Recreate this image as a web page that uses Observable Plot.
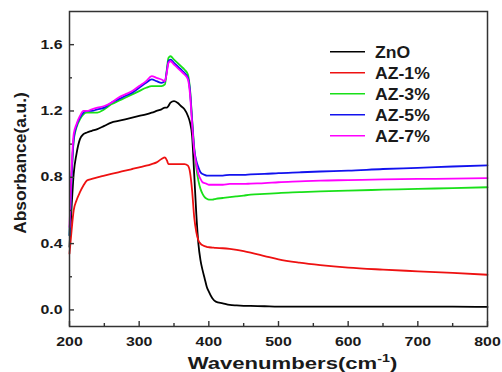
<!DOCTYPE html>
<html>
<head>
<meta charset="utf-8">
<script src="https://cdn.jsdelivr.net/npm/d3@7"></script>
<script src="https://cdn.jsdelivr.net/npm/@observablehq/plot@0.6"></script>
<style>
  html, body { margin: 0; padding: 0; background: #fff; }
  #chart { width: 502px; height: 372px; }
</style>
</head>
<body>
<div id="chart"></div>
<script>
// ---- data ----
const wavelengths = [200, 203, 206, 210, 215, 220, 225, 232, 240, 250, 260, 270, 280, 290, 300, 310, 318, 325, 332, 337, 340, 342, 345, 350, 355, 360, 365, 370, 373, 376, 379, 382, 385, 388, 391, 394, 397, 400, 405, 410, 420, 430, 440, 450, 460, 480, 500, 530, 560, 600, 650, 700, 750, 800];
const seriesNames = ["ZnO", "AZ-1%", "AZ-3%", "AZ-5%", "AZ-7%"];
const valuesZnO = [0.38, 0.62, 0.82, 0.94, 1.03, 1.06, 1.07, 1.08, 1.09, 1.11, 1.13, 1.14, 1.15, 1.16, 1.17, 1.18, 1.19, 1.20, 1.21, 1.22, 1.22, 1.23, 1.25, 1.26, 1.25, 1.23, 1.21, 1.17, 1.13, 1.05, 0.82, 0.58, 0.40, 0.30, 0.24, 0.19, 0.14, 0.11, 0.07, 0.05, 0.04, 0.03, 0.027, 0.025, 0.024, 0.022, 0.02, 0.02, 0.02, 0.02, 0.02, 0.02, 0.02, 0.018];
const valuesAZ1 = [0.34, 0.48, 0.60, 0.66, 0.71, 0.75, 0.78, 0.79, 0.80, 0.81, 0.82, 0.83, 0.84, 0.85, 0.86, 0.87, 0.88, 0.89, 0.91, 0.92, 0.90, 0.88, 0.88, 0.88, 0.88, 0.88, 0.88, 0.87, 0.83, 0.72, 0.56, 0.47, 0.42, 0.40, 0.39, 0.385, 0.38, 0.378, 0.376, 0.374, 0.372, 0.368, 0.362, 0.354, 0.345, 0.325, 0.305, 0.285, 0.27, 0.255, 0.243, 0.233, 0.223, 0.212];
const valuesAZ3 = [0.45, 0.80, 1.02, 1.10, 1.15, 1.18, 1.19, 1.19, 1.19, 1.21, 1.24, 1.26, 1.28, 1.30, 1.32, 1.34, 1.35, 1.35, 1.35, 1.36, 1.46, 1.52, 1.53, 1.51, 1.49, 1.47, 1.45, 1.42, 1.33, 1.15, 0.98, 0.86, 0.78, 0.73, 0.70, 0.68, 0.67, 0.665, 0.665, 0.67, 0.675, 0.68, 0.685, 0.69, 0.695, 0.70, 0.705, 0.71, 0.715, 0.72, 0.725, 0.73, 0.735, 0.74];
const valuesAZ5 = [0.45, 0.80, 1.03, 1.11, 1.16, 1.19, 1.20, 1.20, 1.21, 1.22, 1.25, 1.27, 1.29, 1.31, 1.34, 1.37, 1.39, 1.38, 1.37, 1.38, 1.45, 1.50, 1.51, 1.49, 1.47, 1.45, 1.43, 1.40, 1.32, 1.14, 0.97, 0.90, 0.86, 0.83, 0.82, 0.815, 0.81, 0.81, 0.81, 0.81, 0.81, 0.815, 0.815, 0.815, 0.818, 0.82, 0.825, 0.83, 0.835, 0.84, 0.85, 0.857, 0.865, 0.872];
const valuesAZ7 = [0.50, 0.85, 1.06, 1.12, 1.17, 1.20, 1.20, 1.21, 1.22, 1.23, 1.25, 1.28, 1.30, 1.32, 1.35, 1.38, 1.41, 1.40, 1.39, 1.38, 1.44, 1.49, 1.50, 1.48, 1.46, 1.44, 1.42, 1.39, 1.30, 1.12, 0.96, 0.88, 0.82, 0.79, 0.77, 0.765, 0.76, 0.755, 0.755, 0.755, 0.755, 0.76, 0.76, 0.76, 0.762, 0.765, 0.77, 0.775, 0.78, 0.783, 0.787, 0.79, 0.792, 0.795];
const xTicks = [200, 300, 400, 500, 600, 700, 800];
const xMinorTicks = [250, 350, 450, 550, 650, 750];
const yTicks = [0.0, 0.4, 0.8, 1.2, 1.6];
const yMinorTicks = [0.2, 0.6, 1.0, 1.4];
const xLabel = "Wavenumbers(cm-1)";
const yLabel = "Absorbance(a.u.)";

// ---- table built from the arrays ----
const allValues = [valuesZnO, valuesAZ1, valuesAZ3, valuesAZ5, valuesAZ7];
const rows = [];
seriesNames.forEach((name, si) => {
  wavelengths.forEach((w, i) => rows.push({series: name, w, v: allValues[si][i]}));
});

const colors = ["#000000", "#ee1111", "#19e019", "#1212ee", "#ff00ff"];
const W = 502, H = 372, mL = 69, mR = 15, mT = 11, mB = 46;
const frameW = W - mL - mR, frameH = H - mT - mB;
const ink = "#1a1a1a";
const font = "'Liberation Sans', Arial, sans-serif";

const chart = Plot.plot({
  width: W, height: H,
  marginLeft: mL, marginRight: mR, marginTop: mT, marginBottom: mB,
  style: {fontFamily: font, fontWeight: "bold", color: ink, background: "#fff"},
  x: {domain: [200, 800]},
  y: {domain: [-0.1, 1.8]},
  color: {domain: seriesNames, range: colors},
  marks: [
    Plot.line(rows, {x: "w", y: "v", z: "series", stroke: "series", strokeWidth: 1.8, curve: "monotone-x"}),
    Plot.frame({stroke: "#333", strokeWidth: 1.5}),
    Plot.tickX(xTicks, {x: d => d, insetTop: frameH - 5, stroke: "#333", strokeWidth: 1.4}),
    Plot.tickX(xMinorTicks, {x: d => d, insetTop: frameH - 3, stroke: "#333", strokeWidth: 1.4}),
    Plot.tickY(yTicks, {y: d => d, insetRight: frameW - 5, stroke: "#333", strokeWidth: 1.4}),
    Plot.tickY(yMinorTicks, {y: d => d, insetRight: frameW - 3, stroke: "#333", strokeWidth: 1.4}),
    Plot.axisX({ticks: xTicks, tickSize: 0, tickPadding: 10, fontSize: 13, fontWeight: "bold", label: null, tickFormat: d => String(d)}),
    Plot.axisY({ticks: yTicks, tickSize: 0, tickPadding: 7, fontSize: 13, fontWeight: "bold", label: null, tickFormat: d3.format(".1f")}),
    Plot.text([xLabel], {frameAnchor: "bottom", textAnchor: "middle", lineAnchor: "top", dy: 30, dx: 14, fontSize: 17, fontWeight: "bold", fill: ink}),
    Plot.text([yLabel], {frameAnchor: "left", textAnchor: "middle", lineAnchor: "top", rotate: -90, dx: -56, dy: -6, fontSize: 17, fontWeight: "bold", fill: ink})
  ]
});
document.getElementById("chart").appendChild(chart);

const svg = d3.select(chart);

function stretch(el, k) {
  const w = el.getComputedTextLength();
  el.setAttribute("textLength", (w * k).toFixed(1));
  el.setAttribute("lengthAdjust", "spacingAndGlyphs");
}

// tick labels a bit wider, as in the reference
svg.selectAll("g[aria-label='x-axis tick label'] text, g[aria-label='y-axis tick label'] text").each(function() { stretch(this, 1.22); });

// superscript in the x label
svg.selectAll("text").each(function() {
  const t = d3.select(this);
  if (t.text() === xLabel) {
    t.text(null);
    t.append("tspan").text("Wavenumbers(cm");
    t.append("tspan").attr("dy", -7).attr("font-size", 11).text("-1");
    t.append("tspan").attr("dy", 7).text(")");
    stretch(this, 1.3);
  } else if (t.text() === yLabel) {
    stretch(this, 1.02);
  }
});

// legend inside the plot frame
const legend = svg.append("g").attr("font-family", font).attr("font-weight", "bold").attr("font-size", 16)
  .attr("fill", ink).attr("text-anchor", "start");
seriesNames.forEach((name, i) => {
  const y = 51.7 + i * 21;
  legend.append("line").attr("x1", 330).attr("x2", 365).attr("y1", y).attr("y2", y)
    .attr("stroke", colors[i]).attr("stroke-width", 1.6);
  const t = legend.append("text").attr("x", 375).attr("y", y + 6).attr("text-anchor", "start").text(name);
  stretch(t.node(), 1.1);
});
</script>
</body>
</html>
